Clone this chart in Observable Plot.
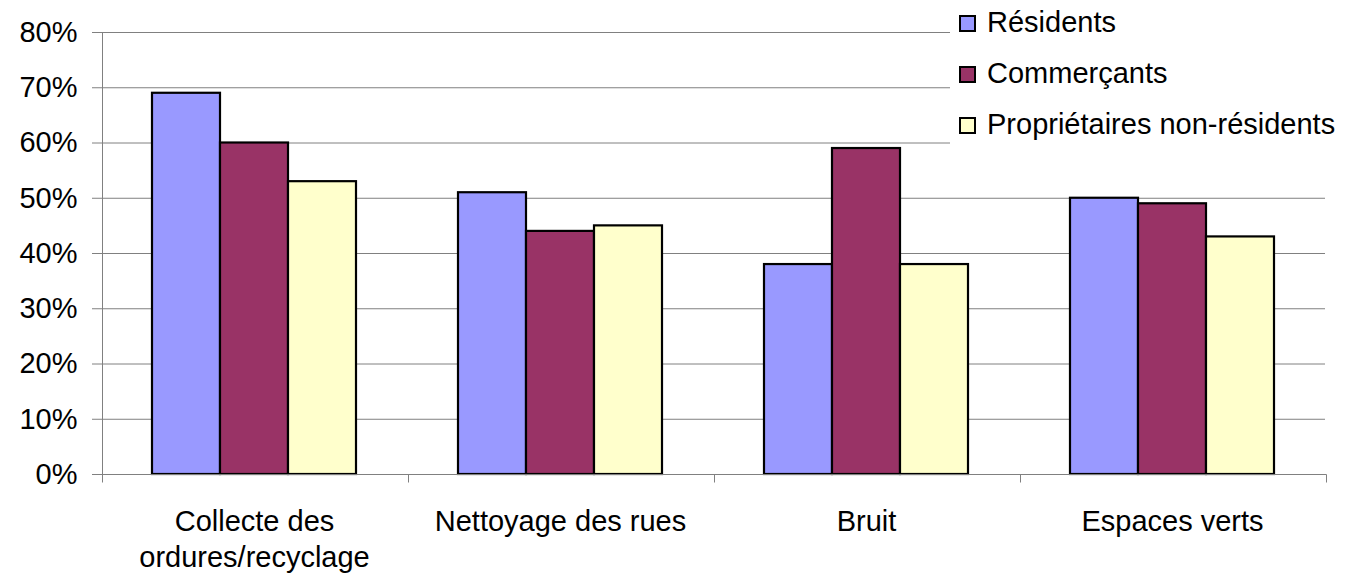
<!DOCTYPE html>
<html>
<head>
<meta charset="utf-8">
<script src="https://cdn.jsdelivr.net/npm/d3@7"></script>
<script src="https://cdn.jsdelivr.net/npm/@observablehq/plot@0.6"></script>
<style>
  html, body { margin: 0; padding: 0; background: #fff; }
  #wrap { position: relative; width: 1362px; height: 574px; font-family: "Liberation Sans", Arial, sans-serif; }
  #legend { position: absolute; left: 950px; top: 0; width: 412px; height: 160px; background: #fff; }
  .row { position: absolute; left: 9px; display: flex; align-items: center; font-size: 29px; line-height: 34px; height: 34px; color: #000; white-space: nowrap; }
  .sw { width: 17px; height: 17px; box-sizing: border-box; border: 2px solid #000; margin-right: 11px; position: relative; top: 1px; }
</style>
</head>
<body>
<div id="wrap"><div id="chart"></div><div id="legend"></div></div>
<script>
// ---- data ----
const categories = ["Collecte des\nordures/recyclage", "Nettoyage des rues", "Bruit", "Espaces verts"];
const series = ["Résidents", "Commerçants", "Propriétaires non-résidents"];
const seriesColors = ["#9999FF", "#993366", "#FFFFCC"];
const residents = [69, 51, 38, 50];
const commercants = [60, 44, 59, 49];
const proprietaires = [53, 45, 38, 43];
const yTicks = [0, 10, 20, 30, 40, 50, 60, 70, 80];

const valuesBySeries = [residents, commercants, proprietaires];
const table = series.flatMap((s, si) =>
  categories.map((c, ci) => ({category: c, series: s, value: valuesBySeries[si][ci]}))
);

// axis lines + category boundary ticks, drawn once through Plot's scales
let decorated = false;
function axisLines(index, scales, values, dimensions) {
  if (decorated) return null;
  decorated = true;
  const fx = scales.fx, y = scales.y;
  let xs;
  if (fx && fx.domain) {
    xs = fx.domain().map((d) => fx(d));
    xs.push(fx(fx.domain()[fx.domain().length - 1]) + fx.bandwidth());
  } else {
    const {marginLeft, marginRight, width} = dimensions;
    const bw = (width - marginLeft - marginRight) / categories.length;
    xs = d3.range(categories.length + 1).map((i) => marginLeft + i * bw);
  }
  const y0 = y(0), yTop = y(yTicks[yTicks.length - 1]);
  const g = d3.create("svg:g").attr("stroke", "#808080").attr("fill", "none").attr("transform", "translate(0.5,0.5)");
  const x0 = Math.round(xs[0]), xN = Math.round(xs[xs.length - 1]);
  g.append("line").attr("x1", x0).attr("x2", x0).attr("y1", Math.round(yTop)).attr("y2", Math.round(y0));
  g.append("line").attr("x1", x0).attr("x2", xN).attr("y1", Math.round(y0)).attr("y2", Math.round(y0));
  for (const x of xs) {
    g.append("line").attr("x1", Math.round(x)).attr("x2", Math.round(x)).attr("y1", Math.round(y0)).attr("y2", Math.round(y0) + 8);
  }
  return g.node();
}

const chart = Plot.plot({
  width: 1362,
  height: 574,
  marginLeft: 100,
  marginRight: 36,
  marginTop: 32,
  marginBottom: 100,
  style: {fontFamily: "'Liberation Sans', Arial, sans-serif", fontSize: "29px", color: "black", background: "white", overflow: "visible"},
  fx: {domain: categories, padding: 0, label: null},
  x: {domain: series, paddingInner: 0, paddingOuter: 0.73, axis: null},
  y: {domain: [0, 80], label: null},
  color: {domain: series, range: seriesColors},
  marks: [
    Plot.gridY(yTicks, {stroke: "#808080", strokeOpacity: 1}),
    Plot.barY(table, {fx: "category", x: "series", y: "value", fill: "series", stroke: "black", strokeWidth: 2.2}),
    axisLines,
    Plot.axisY(yTicks, {tickSize: 9, tickPadding: 15, tickFormat: (d) => d + "%", stroke: "#808080", fill: "black", fontSize: 29, label: null}),
    Plot.axisFx({anchor: "bottom", tickSize: 0, tickPadding: 30, lineHeight: 1.27, fontSize: 29, fill: "black", label: null})
  ]
});
document.getElementById("chart").appendChild(chart);

// legend (overlaid at top right, white background hides the gridlines behind it)
const legend = d3.select("#legend");
const rowTops = [5, 56, 107];
series.forEach((s, i) => {
  const row = legend.append("div").attr("class", "row").style("top", rowTops[i] + "px");
  row.append("div").attr("class", "sw").style("background", seriesColors[i]);
  row.append("span").text(s);
});
</script>
</body>
</html>
